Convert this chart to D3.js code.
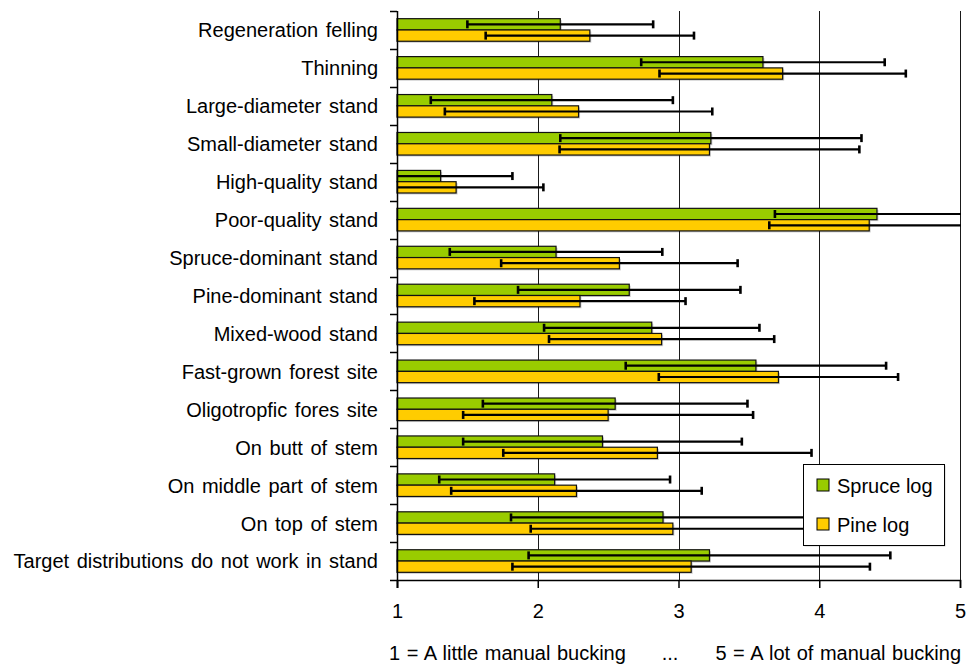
<!DOCTYPE html>
<html>
<head>
<meta charset="utf-8">
<script src="https://cdn.jsdelivr.net/npm/d3@7"></script>
<style>
  html, body { margin: 0; padding: 0; background: #fff; }
  svg { display: block; font-family: "Liberation Sans", Arial, sans-serif; }
</style>
</head>
<body>
<svg id="chart" width="967" height="672"></svg>
<script>
// Survey items (top to bottom)
const categories = [
  "Regeneration felling",
  "Thinning",
  "Large-diameter stand",
  "Small-diameter stand",
  "High-quality stand",
  "Poor-quality stand",
  "Spruce-dominant stand",
  "Pine-dominant stand",
  "Mixed-wood stand",
  "Fast-grown forest site",
  "Oligotropfic fores site",
  "On butt of stem",
  "On middle part of stem",
  "On top of stem",
  "Target distributions do not work in stand"
];

const seriesNames = ["Spruce log", "Pine log"];

// Mean scores (1 = a little ... 5 = a lot of manual bucking)
const spruceMean = [2.16, 3.60, 2.10, 3.23, 1.31, 4.41, 2.13, 2.65, 2.81, 3.55, 2.55, 2.46, 2.12, 2.89, 3.22];
const pineMean   = [2.37, 3.74, 2.29, 3.22, 1.42, 4.355, 2.58, 2.30, 2.88, 3.71, 2.50, 2.85, 2.275, 2.96, 3.09];

// Standard deviations (error bars)
const spruceSd = [0.66, 0.865, 0.86, 1.07, 0.51, 0.725, 0.755, 0.79, 0.765, 0.925, 0.94, 0.99, 0.82, 1.08, 1.285];
const pineSd   = [0.74, 0.875, 0.95, 1.065, 0.62, 0.71, 0.84, 0.75, 0.80, 0.85, 1.03, 1.095, 0.89, 1.01, 1.27];

const xTicks = [1, 2, 3, 4, 5];
const scaleNoteLeft = "1 = A little manual bucking";
const scaleNoteMid = "...";
const scaleNoteRight = "5 = A lot of manual bucking";

const seriesColors = ["#99CC00", "#FFCC00"];

const rows = categories.map((c, i) => ({
  category: c,
  values: [
    { series: seriesNames[0], mean: spruceMean[i], sd: spruceSd[i] },
    { series: seriesNames[1], mean: pineMean[i], sd: pineSd[i] }
  ]
}));

const svg = d3.select("#chart");
const plot = { left: 397, right: 960, top: 11, bottom: 580 };
const fontSize = 20;

const x = d3.scaleLinear().domain([1, 5]).range([plot.left, plot.right]);
const y = d3.scaleBand().domain(categories).range([plot.top, plot.bottom]).paddingInner(0).paddingOuter(0);
const ySub = d3.scaleBand().domain(seriesNames).range([0, y.bandwidth()]).paddingInner(0).paddingOuter(0.68);
const color = d3.scaleOrdinal().domain(seriesNames).range(seriesColors);

svg.append("defs").append("clipPath").attr("id", "plot-clip")
  .append("rect")
  .attr("x", plot.left).attr("y", plot.top - 5)
  .attr("width", plot.right - plot.left + 1).attr("height", plot.bottom - plot.top + 10);

// Vertical gridlines
svg.append("g")
  .selectAll("line")
  .data(xTicks.slice(1))
  .join("line")
  .attr("x1", d => Math.round(x(d)) + 0.5)
  .attr("x2", d => Math.round(x(d)) + 0.5)
  .attr("y1", plot.top)
  .attr("y2", plot.bottom)
  .attr("stroke", "#1a1a1a")
  .attr("stroke-width", 1);

// Bars
const groups = svg.append("g")
  .selectAll("g")
  .data(rows)
  .join("g")
  .attr("transform", d => `translate(0,${y(d.category)})`);

groups.selectAll("rect.shadow")
  .data(d => d.values)
  .join("rect")
  .attr("class", "shadow")
  .attr("x", x(1) + 1.5)
  .attr("y", d => ySub(d.series) + 1.5)
  .attr("width", d => x(d.mean) - x(1))
  .attr("height", ySub.bandwidth())
  .attr("fill", "#000")
  .attr("opacity", 0.2);

groups.selectAll("rect.bar")
  .data(d => d.values)
  .join("rect")
  .attr("class", "bar")
  .attr("x", x(1))
  .attr("y", d => ySub(d.series))
  .attr("width", d => x(d.mean) - x(1))
  .attr("height", ySub.bandwidth())
  .attr("fill", d => color(d.series))
  .attr("stroke", "#111")
  .attr("stroke-width", 1.2);

// Error bars (± one standard deviation), clipped to the plot area
const errG = svg.append("g").attr("clip-path", "url(#plot-clip)");
const errGroups = errG.selectAll("g")
  .data(rows)
  .join("g")
  .attr("transform", d => `translate(0,${y(d.category)})`);

errGroups.each(function(row) {
  const g = d3.select(this);
  row.values.forEach(v => {
    const cy = ySub(v.series) + ySub.bandwidth() / 2;
    const lo = v.mean - v.sd, hi = v.mean + v.sd;
    g.append("line")
      .attr("x1", x(lo)).attr("x2", x(hi))
      .attr("y1", cy).attr("y2", cy)
      .attr("stroke", "#000").attr("stroke-width", 2.2);
    [lo, hi].forEach(e => {
      g.append("line")
        .attr("x1", x(e)).attr("x2", x(e))
        .attr("y1", cy - 4).attr("y2", cy + 4)
        .attr("stroke", "#000").attr("stroke-width", 2.6);
    });
  });
});

// Left axis with category labels
const yAxis = svg.append("g");
yAxis.append("line")
  .attr("x1", plot.left + 0.5).attr("x2", plot.left + 0.5)
  .attr("y1", plot.top).attr("y2", plot.bottom + 8)
  .attr("stroke", "#000").attr("stroke-width", 1.5);
const boundaries = categories.map(c => y(c)).concat([plot.bottom]);
yAxis.selectAll("line.tick")
  .data(boundaries)
  .join("line")
  .attr("class", "tick")
  .attr("x1", plot.left - 7).attr("x2", plot.left)
  .attr("y1", d => Math.round(d) + 0.5).attr("y2", d => Math.round(d) + 0.5)
  .attr("stroke", "#000").attr("stroke-width", 1.5);
yAxis.selectAll("text")
  .data(categories)
  .join("text")
  .attr("x", 378)
  .attr("y", d => y(d) + y.bandwidth() / 2)
  .attr("dy", "0.37em")
  .attr("text-anchor", "end")
  .attr("font-size", fontSize)
  .attr("word-spacing", 2)
  .attr("fill", "#000")
  .text(d => d);

// Bottom axis
const xAxis = d3.axisBottom(x).tickValues(xTicks).tickSize(8).tickPadding(16).tickFormat(d3.format("d"));
const xg = svg.append("g").attr("transform", `translate(0,${plot.bottom})`).call(xAxis);
xg.select(".domain").attr("stroke", "#000").attr("stroke-width", 1.5);
xg.selectAll(".tick line").attr("stroke", "#000").attr("stroke-width", 1.5);
xg.selectAll(".tick text")
  .attr("font-size", fontSize)
  .attr("font-family", "'Liberation Sans', Arial, sans-serif")
  .attr("fill", "#000");

// Scale description
const note = svg.append("g").attr("font-size", fontSize).attr("fill", "#000").attr("word-spacing", 1);
note.append("text").attr("x", 389).attr("y", 660).attr("text-anchor", "start").text(scaleNoteLeft);
note.append("text").attr("x", 670).attr("y", 660).attr("text-anchor", "middle").text(scaleNoteMid);
note.append("text").attr("x", 961).attr("y", 660).attr("text-anchor", "end").text(scaleNoteRight);

// Legend
const legend = svg.append("g").attr("transform", "translate(803,464)");
legend.append("rect")
  .attr("x", 1.5).attr("y", 1.5).attr("width", 141).attr("height", 81)
  .attr("fill", "#000").attr("opacity", 0.2);
legend.append("rect")
  .attr("x", 0.5).attr("y", 0.5).attr("width", 141).attr("height", 81)
  .attr("fill", "#fff").attr("stroke", "#000").attr("stroke-width", 1);
const li = legend.selectAll("g.item")
  .data(seriesNames)
  .join("g")
  .attr("class", "item")
  .attr("transform", (d, i) => `translate(14,${15 + i * 39})`);
li.append("rect")
  .attr("width", 12).attr("height", 12)
  .attr("fill", d => color(d))
  .attr("stroke", "#000").attr("stroke-width", 1);
li.append("text")
  .attr("x", 20).attr("y", 14)
  .attr("font-size", fontSize).attr("fill", "#000")
  .text(d => d);
</script>
</body>
</html>
